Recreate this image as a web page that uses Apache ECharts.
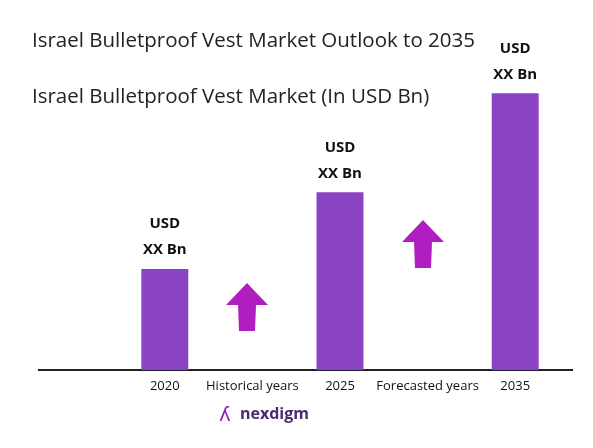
<!DOCTYPE html>
<html><head><meta charset="utf-8">
<script src="https://cdn.jsdelivr.net/npm/echarts@6/dist/echarts.min.js"></script>
<style>html,body{margin:0;background:#fff}#c{width:593px;height:448px}</style>
</head><body><div id="c"></div>
<script>
var categories = ['2020', 'Historical years', '2025', 'Forecasted years', '2035'];
var marketValues = [1.0, null, 1.76, null, 2.74];
var valueLabels = ['USD\nXX Bn', '', 'USD\nXX Bn', '', 'USD\nXX Bn'];

var chart = echarts.init(document.getElementById('c'));
var arrow = function (cx, top) {
  return {
    type: 'polygon', silent: true,
    shape: { points: [[cx, top], [cx + 21, top + 22], [cx + 9, top + 22], [cx + 8, top + 48], [cx - 8, top + 48], [cx - 9, top + 22], [cx - 21, top + 22]] },
    style: { fill: '#b01ec0' }
  };
};
chart.setOption({
  animation: false,
  grid: { left: 121, right: 34, top: 60, bottom: 78 },
  xAxis: {
    type: 'category', data: categories,
    axisLine: { show: false }, axisTick: { show: false },
    axisLabel: { interval: 0, color: '#111', fontSize: 13, margin: 10, fontFamily: 'Open Sans' }
  },
  yAxis: { type: 'value', min: 0, max: 3.07, show: false, splitLine: { show: false } },
  series: [{
    type: 'bar', data: marketValues, barWidth: 47,
    itemStyle: { color: '#8a43c2' },
    label: {
      show: true, position: 'top', distance: 6,
      formatter: function (p) { return valueLabels[p.dataIndex]; },
      fontWeight: 'bold', fontSize: 15, lineHeight: 26, color: '#111', fontFamily: 'Open Sans'
    }
  }],
  graphic: [
    { type: 'text', left: 32, top: 31, style: { text: 'Israel Bulletproof Vest Market Outlook to 2035', fontSize: 20.5, fill: '#222', fontFamily: 'Open Sans' } },
    { type: 'text', left: 32, top: 87, style: { text: 'Israel Bulletproof Vest Market (In USD Bn)', fontSize: 20.5, fill: '#222', fontFamily: 'Open Sans' } },
    { type: 'line', silent: true, shape: { x1: 38, y1: 370, x2: 573, y2: 370 }, style: { stroke: '#222', lineWidth: 2 } },
    arrow(247, 283),
    arrow(423, 220),
    { type: 'text', left: 219, top: 406, style: { text: 'ʎ', fontSize: 20, fill: '#8a1fc0', fontFamily: 'DejaVu Sans' } },
    { type: 'text', left: 240, top: 406, style: { text: 'nexdigm', fontSize: 16, fontWeight: 'bold', fill: '#4a2a6e', fontFamily: 'Open Sans' } }
  ]
});
</script></body></html>
